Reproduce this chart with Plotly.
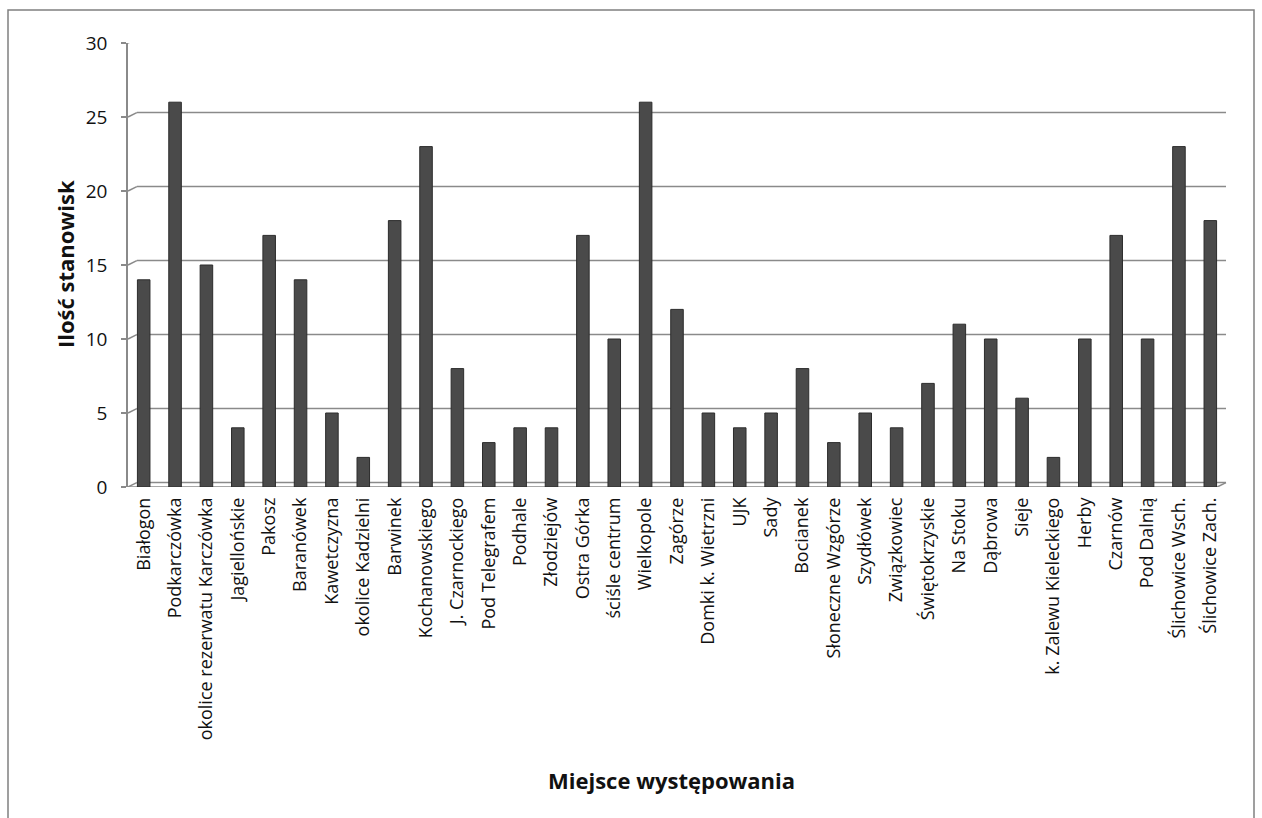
import plotly.graph_objects as go

# Number of sites per locality
categories = [
    "Białogon", "Podkarczówka", "okolice rezerwatu Karczówka", "Jagiellońskie",
    "Pakosz", "Baranówek", "Kawetczyzna", "okolice Kadzielni", "Barwinek",
    "Kochanowskiego", "J. Czarnockiego", "Pod Telegrafem", "Podhale",
    "Złodziejów", "Ostra Górka", "ściśle centrum", "Wielkopole", "Zagórze",
    "Domki k. Wietrzni", "UJK", "Sady", "Bocianek", "Słoneczne Wzgórze",
    "Szydłówek", "Związkowiec", "Świętokrzyskie", "Na Stoku", "Dąbrowa",
    "Sieje", "k. Zalewu Kieleckiego", "Herby", "Czarnów", "Pod Dalnią",
    "Ślichowice Wsch.", "Ślichowice Zach.",
]
counts = [14, 26, 15, 4, 17, 14, 5, 2, 18, 23, 8, 3, 4, 4, 17, 10, 26, 12,
          5, 4, 5, 8, 3, 5, 4, 7, 11, 10, 6, 2, 10, 17, 10, 23, 18]
y_ticks = [0, 5, 10, 15, 20, 25, 30]

FONT = "Open Sans"
GRID = "#8a8a8a"

fig = go.Figure()
fig.add_trace(go.Bar(
    x=categories, y=counts, width=0.4,
    marker=dict(color="#4a4a4a", line=dict(color="#2c2c2c", width=1)),
    hoverinfo="x+y",
))

# pseudo-3D back wall: gridlines shifted up/right, joined to the axis by short diagonals
dx, dy = 0.008, 0.3
shapes = []
for v in y_ticks:
    shapes.append(dict(type="line", xref="paper", yref="y", x0=0, y0=v, x1=dx, y1=v + dy,
                       line=dict(color=GRID, width=1.5), layer="below"))
    shapes.append(dict(type="line", xref="paper", yref="y", x0=dx, y0=v + dy, x1=1, y1=v + dy,
                       line=dict(color=GRID, width=1.5), layer="below"))
# floor front edge
shapes.append(dict(type="line", xref="paper", yref="y", x0=0, y0=0, x1=1 - dx, y1=0,
                   line=dict(color=GRID, width=1.5), layer="below"))
shapes.append(dict(type="line", xref="paper", yref="y", x0=1 - dx, y0=0, x1=1, y1=dy,
                   line=dict(color=GRID, width=1.5), layer="below"))
# outer chart border (bottom edge falls outside the page)
shapes.append(dict(type="rect", xref="paper", yref="paper",
                   x0=-120 / 1098, y0=-360 / 444, x1=1.0 + 28 / 1098, y1=1.0 + 33 / 444,
                   line=dict(color="#808080", width=1.5)))

fig.update_layout(
    width=1262, height=818,
    margin=dict(l=128, r=36, t=43, b=331),
    paper_bgcolor="white", plot_bgcolor="white",
    font=dict(family=FONT, color="#111111"),
    showlegend=False,
    shapes=shapes,
    xaxis=dict(
        type="category", tickangle=-90, showgrid=False, showline=False,
        ticks="", tickfont=dict(size=18, family=FONT, color="#111111"), ticklabelstandoff=6,
    ),
    yaxis=dict(
        range=[0, 30], tickvals=y_ticks, showgrid=False, zeroline=False,
        showline=True, linecolor=GRID, linewidth=1.5,
        ticks="outside", ticklen=5, tickcolor=GRID, tickwidth=1.5,
        tickfont=dict(size=19, family=FONT, color="#111111"), ticklabelstandoff=10,
    ),
    annotations=[
        dict(text="<b>Ilość stanowisk</b>", xref="paper", yref="paper",
             x=-63 / 1098, y=(487 - 264) / 444, xanchor="center", yanchor="middle",
             textangle=-90, showarrow=False,
             font=dict(size=22, family=FONT, color="#111111")),
        dict(text="<b>Miejsce występowania</b>", xref="paper", yref="paper",
             x=(671 - 128) / 1098, y=-(780 - 487) / 444, xanchor="center", yanchor="middle",
             showarrow=False,
             font=dict(size=22, family=FONT, color="#111111")),
    ],
)

fig.write_html("out.html")
